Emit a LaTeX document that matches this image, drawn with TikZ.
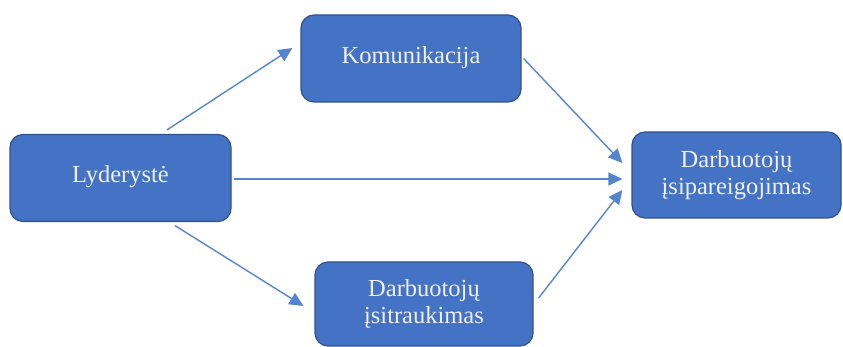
\documentclass[tikz,border=0pt]{standalone}
\usepackage{fontspec}
\setmainfont{Liberation Serif}
\usetikzlibrary{arrows.meta}
\definecolor{boxfill}{HTML}{4472C4}
\definecolor{boxline}{HTML}{2F528F}
\definecolor{arrowc}{HTML}{5585D0}
\begin{document}
\begin{tikzpicture}[x=1pt,y=1pt,
  box/.style={draw=boxline, line width=1.2pt, fill=boxfill, rounded corners=13pt,
    text=white!94!black, align=center, inner sep=0pt,
    font=\fontsize{24.5}{27}\selectfont},
  conn/.style={draw=arrowc, line width=1.4pt, -{Triangle[length=14pt,width=13pt]}}]
\useasboundingbox (0,0) rectangle (843,347);
\node[box, minimum width=221pt, minimum height=87pt] (L) at (120.5,169) {\raisebox{7pt}{Lyderystė}};
\node[box, minimum width=220pt, minimum height=87pt] (K) at (411,288.5) {\raisebox{7pt}{Komunikacija}};
\node[box, minimum width=209pt, minimum height=86pt] (T) at (736.5,172) {Darbuotojų\\įsipareigojimas};
\node[box, minimum width=218pt, minimum height=84pt] (S) at (424,43) {Darbuotojų\\įsitraukimas};
\draw[conn] ([xshift=46.5pt,yshift=4pt]L.north) -- ([xshift=-8pt,yshift=10.5pt]K.west);
\draw[conn] ([xshift=2pt]K.east) -- ([xshift=-9pt,yshift=12pt]T.west);
\draw[conn] ([xshift=2pt,yshift=-1pt]L.east) -- ([xshift=-9pt,yshift=-1pt]L.east -| T.west);
\draw[conn] ([xshift=54.5pt,yshift=-3.5pt]L.south) -- ([xshift=-11pt,yshift=-2pt]S.west);
\draw[conn] ([xshift=5pt,yshift=6pt]S.east) -- ([xshift=-9pt,yshift=-15pt]T.west);
\end{tikzpicture}
\end{document}
